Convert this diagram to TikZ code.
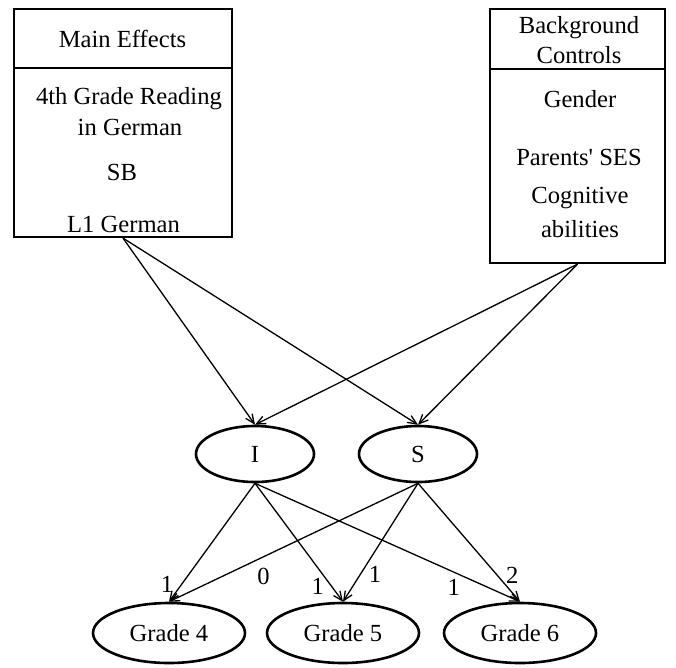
\documentclass[tikz,border=0pt]{standalone}
\usepackage{fontspec}
\setmainfont{Liberation Serif}
\usetikzlibrary{shapes,arrows.meta,positioning}

\begin{document}
\begin{tikzpicture}[x=1pt, y=-1pt,
    box/.style={rectangle, draw, line width=2.2pt, inner sep=0pt},
    txt/.style={font=\fontsize{24.6}{29.5}\selectfont, anchor=base, inner sep=0pt},
    factor/.style={ellipse, draw, line width=2.6pt, minimum width=118pt,
                   minimum height=56pt, inner sep=0pt, font=\fontsize{24.6}{29.5}\selectfont},
    grade/.style={ellipse, draw, line width=2.6pt, minimum width=152pt,
                  minimum height=60pt, inner sep=0pt, font=\fontsize{24.6}{29.5}\selectfont},
    link/.style={line width=1.3pt, -{Straight Barb[length=9pt,width=8pt]}},
    load/.style={font=\fontsize{24.6}{29.5}\selectfont, inner sep=0pt}
]
\useasboundingbox (0,0) rectangle (676,667);

% Main effects box
\node[box, minimum width=218pt, minimum height=59pt] (mainhd) at (123,38.5) {};
\node[box, minimum width=218pt, minimum height=169pt] (mainbody) at (123,152.5) {};
\node[txt] (tmain) at (122.5,47) {Main Effects};
\node[txt] (tread) at (129,104) {4th Grade Reading};
\node[txt] (tgerm) at (130,135) {in German};
\node[txt] (tsb) at (122,180) {SB};
\node[txt] (tlone) at (123.5,232) {L1 German};

% Background controls box
\node[box, minimum width=175pt, minimum height=60pt] (ctrlhd) at (577.5,39) {};
\node[box, minimum width=175pt, minimum height=194pt] (ctrlbody) at (577.5,166) {};
\node[txt] (tback) at (579,33) {Background};
\node[txt] (tcont) at (579,63) {Controls};
\node[txt] (tgend) at (580,107) {Gender};
\node[txt] (tses) at (579,165) {Parents\textquotesingle{} SES};
\node[txt] (tcogn) at (580,203) {Cognitive};
\node[txt] (tabil) at (580,237) {abilities};

% Growth factors
\node[factor] (I) at (255,454) {I};
\node[factor] (S) at (418,454) {S};

% Grades
\node[grade] (g4) at (169,633) {Grade 4};
\node[grade] (g5) at (343,633) {Grade 5};
\node[grade] (g6) at (520,633) {Grade 6};

% Predictors
\draw[link] (mainbody.south) -- (I.north);
\draw[link] (mainbody.south) -- (S.north);
\draw[link] (ctrlbody.south) -- (I.north);
\draw[link] (ctrlbody.south) -- (S.north);

% Loadings
\draw[link] (I.south) -- node[load, pos=0.85, left=8pt] {1} (g4.north);
\draw[link] (S.south) -- node[load, pos=0.62, below=11pt] {0} (g4.north);
\draw[link] (I.south) -- node[load, pos=0.87, left=7pt] {1} (g5.north);
\draw[link] (S.south) -- node[load, pos=0.77, right=8pt] {1} (g5.north);
\draw[link] (I.south) -- node[load, pos=0.75, below=6pt] {1} (g6.north);
\draw[link] (S.south) -- node[load, pos=0.78, right=8pt] {2} (g6.north);

\end{tikzpicture}
\end{document}
